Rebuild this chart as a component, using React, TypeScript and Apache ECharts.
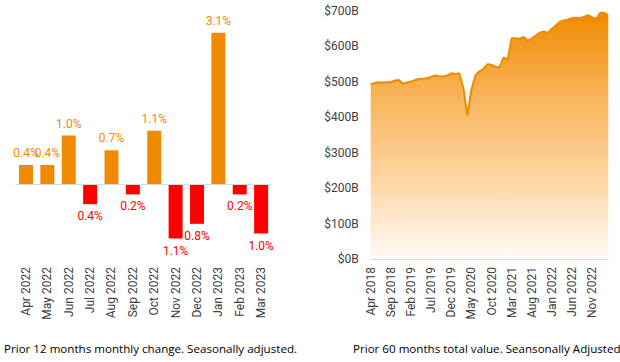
import React, { useEffect, useRef } from "react";
import * as echarts from "echarts";

const monthCats = ["Apr 2022", "May 2022", "Jun 2022", "Jul 2022", "Aug 2022", "Sep 2022", "Oct 2022", "Nov 2022", "Dec 2022", "Jan 2023", "Feb 2023", "Mar 2023"];
const monthlyChange = [0.4, 0.4, 1.0, -0.4, 0.7, -0.2, 1.1, -1.1, -0.8, 3.1, -0.2, -1.0];

const monthNames = ["Jan", "Feb", "Mar", "Apr", "May", "Jun", "Jul", "Aug", "Sep", "Oct", "Nov", "Dec"];
const totalCats: string[] = [];
for (let i = 0; i < 60; i++) {
  const m = (3 + i) % 12;
  const y = 2018 + Math.floor((3 + i) / 12);
  totalCats.push(monthNames[m] + " " + y);
}
const totalValue = [
  493, 497, 499, 498, 499, 499, 504, 505, 495, 498,
  501, 505, 508, 509, 510, 514, 518, 516, 515, 518,
  524, 522, 524, 483, 405, 478, 518, 530, 537, 550,
  548, 543, 542, 569, 562, 623, 623, 622, 627, 616,
  623, 631, 639, 642, 638, 650, 660, 670, 673, 676,
  680, 681, 680, 684, 688, 682, 678, 695, 695, 688,
];

const leftCaption = "Prior 12 months monthly change. Seasonally adjusted.";
const rightCaption = "Prior 60 months total value. Seansonally Adjusted";

const ORANGE = "#F08A00";
const RED = "#FF0000";
const AXIS_TEXT = "#404040";
const FONT = "Roboto";

export default function App() {
  const ref = useRef<HTMLDivElement>(null);
  useEffect(() => {
    if (!ref.current) return;
    const chart = echarts.init(ref.current, null, { renderer: "svg" });
    const barData = monthlyChange.map((v) => ({
      value: v,
      itemStyle: { color: v >= 0 ? ORANGE : RED },
      label: {
        show: true,
        position: v >= 0 ? "top" : "bottom",
        distance: 6,
        color: v >= 0 ? ORANGE : RED,
        fontSize: 12,
        fontFamily: FONT,
        formatter: () => Math.abs(v).toFixed(1) + "%",
      },
    }));
    chart.setOption({
      animation: false,
      grid: [
        { left: 15.3, width: 256.5, top: 18, height: 240.1 },
        { left: 370.7, width: 237.6, top: 11, height: 248 },
      ],
      xAxis: [
        {
          gridIndex: 0,
          type: "category",
          data: monthCats,
          boundaryGap: true,
          axisLine: { show: false, onZero: false },
          axisTick: { show: false },
          axisLabel: { rotate: 90, margin: 9, color: AXIS_TEXT, fontSize: 12, fontFamily: FONT, interval: 0 },
        },
        {
          gridIndex: 1,
          type: "category",
          data: totalCats,
          boundaryGap: false,
          axisLine: { show: true, lineStyle: { color: "#D9D9D9", width: 1 } },
          axisTick: { show: false },
          axisLabel: { rotate: 90, margin: 8, color: AXIS_TEXT, fontSize: 12, fontFamily: FONT, interval: 4 },
        },
      ],
      yAxis: [
        {
          gridIndex: 0,
          type: "value",
          min: -1.5,
          max: 3.4,
          show: false,
          splitLine: { show: false },
        },
        {
          gridIndex: 1,
          type: "value",
          min: 0,
          max: 700,
          interval: 100,
          axisLine: { show: false },
          axisTick: { show: false },
          splitLine: { show: false },
          axisLabel: {
            margin: 12,
            color: AXIS_TEXT,
            fontSize: 12,
            fontFamily: FONT,
            formatter: (v: number) => "$" + v + "B",
          },
        },
      ],
      series: [
        {
          type: "bar",
          xAxisIndex: 0,
          yAxisIndex: 0,
          data: barData,
          barWidth: 14,
          markLine: {
            silent: true,
            symbol: "none",
            label: { show: false },
            lineStyle: { color: "#D9D9D9", width: 1, type: "solid" },
            data: [{ yAxis: 0 }],
          },
        },
        {
          type: "line",
          xAxisIndex: 1,
          yAxisIndex: 1,
          data: totalValue,
          showSymbol: false,
          symbol: "none",
          lineStyle: { color: ORANGE, width: 2 },
          areaStyle: {
            color: new echarts.graphic.LinearGradient(0, 0, 0, 1, [
              { offset: 0, color: "#F08A00" },
              { offset: 0.35, color: "#F8B55C" },
              { offset: 0.7, color: "#FDD7A6" },
              { offset: 1, color: "#FFFBF6" },
            ]),
            opacity: 1,
          },
        },
      ],
      graphic: [
        {
          type: "text",
          left: 4,
          top: 342,
          style: { text: leftCaption, fill: "#000", fontSize: 11.6, fontFamily: "Open Sans" },
        },
        {
          type: "text",
          left: 353,
          top: 342,
          style: { text: rightCaption, fill: "#000", fontSize: 11.6, fontFamily: "Open Sans" },
        },
      ],
    });
    return () => chart.dispose();
  }, []);
  return (
    <div
      ref={ref}
      style={{ position: "fixed", left: 0, top: 0, width: 620, height: 362, background: "#fff" }}
    />
  );
}
